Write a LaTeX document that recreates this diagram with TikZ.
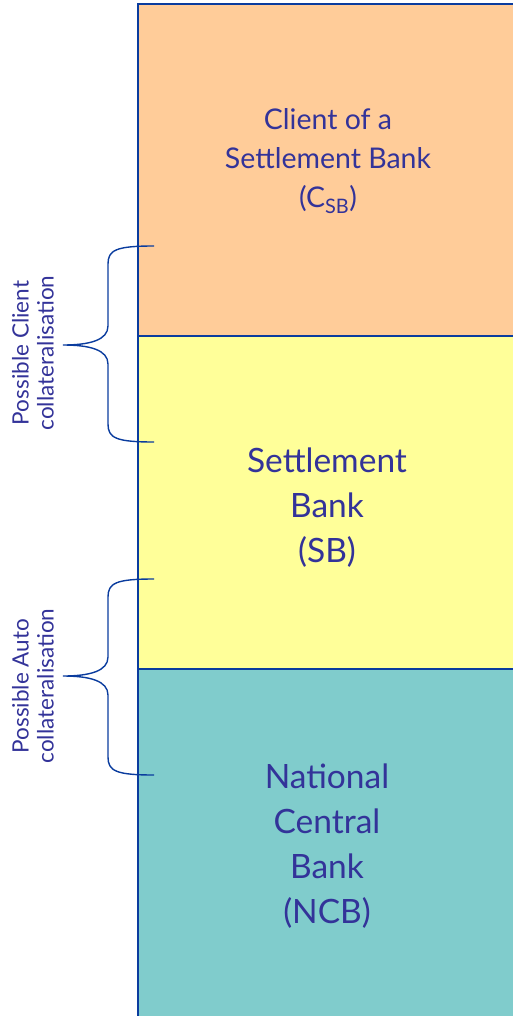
\documentclass[tikz,border=0pt]{standalone}
\usepackage{fontspec}
\setmainfont{Lato}
\definecolor{txtblue}{HTML}{333399}
\definecolor{edgeblue}{HTML}{0A3C9E}
\definecolor{clientfill}{HTML}{FFCC99}
\definecolor{sbfill}{HTML}{FFFF99}
\definecolor{ncbfill}{HTML}{80CCCC}
\begin{document}
\begin{tikzpicture}[x=1pt,y=-1pt,
  layer/.style={draw=edgeblue,line width=2pt},
  smalltext/.style={text=txtblue,align=center,font=\fontsize{28.5}{39}\selectfont},
  bigtext/.style={text=txtblue,align=center,font=\fontsize{33.5}{45}\selectfont},
  bracepath/.style={draw=edgeblue,line width=1.4pt},
  sidelabel/.style={text=txtblue,align=center,rotate=90,font=\fontsize{22.5}{25}\selectfont}]
\useasboundingbox (0,0) rectangle (512,1016);
% stacked layers
\path[layer,fill=clientfill] (138,4) rectangle (530,336);
\path[layer,fill=sbfill] (138,336) rectangle (530,669);
\path[layer,fill=ncbfill] (138,669) rectangle (530,1030);
% layer captions
\node[smalltext] (csb) at (328,161) {Client of a\\Settlement Bank\\(C\textsubscript{SB})};
\node[bigtext] (sb) at (327,508) {Settlement\\Bank\\(SB)};
\node[bigtext] (ncb) at (327,846) {National\\Central\\Bank\\(NCB)};
% brace end points
\coordinate (c1top) at (154,246);
\coordinate (c1tip) at (63,345);
\coordinate (c1bot) at (154,442);
\coordinate (a1top) at (154,579);
\coordinate (a1tip) at (63,676);
\coordinate (a1bot) at (154,775);
% client collateralisation brace
\draw[bracepath] (c1top) .. controls (116,246) and (108,250) .. (108,264) -- (108,326)
  .. controls (108,340) and (90,345) .. (c1tip)
  .. controls (90,345) and (108,350) .. (108,364) -- (108,424)
  .. controls (108,438) and (116,442) .. (c1bot);
% auto collateralisation brace
\draw[bracepath] (a1top) .. controls (116,579) and (108,583) .. (108,597) -- (108,657)
  .. controls (108,671) and (90,676) .. (a1tip)
  .. controls (90,676) and (108,681) .. (108,695) -- (108,757)
  .. controls (108,771) and (116,775) .. (a1bot);
% brace labels
\node[sidelabel] (clientlbl) at (33,353) {Possible Client\\collateralisation};
\node[sidelabel] (autolbl) at (33,686) {Possible Auto\\collateralisation};
\end{tikzpicture}
\end{document}
